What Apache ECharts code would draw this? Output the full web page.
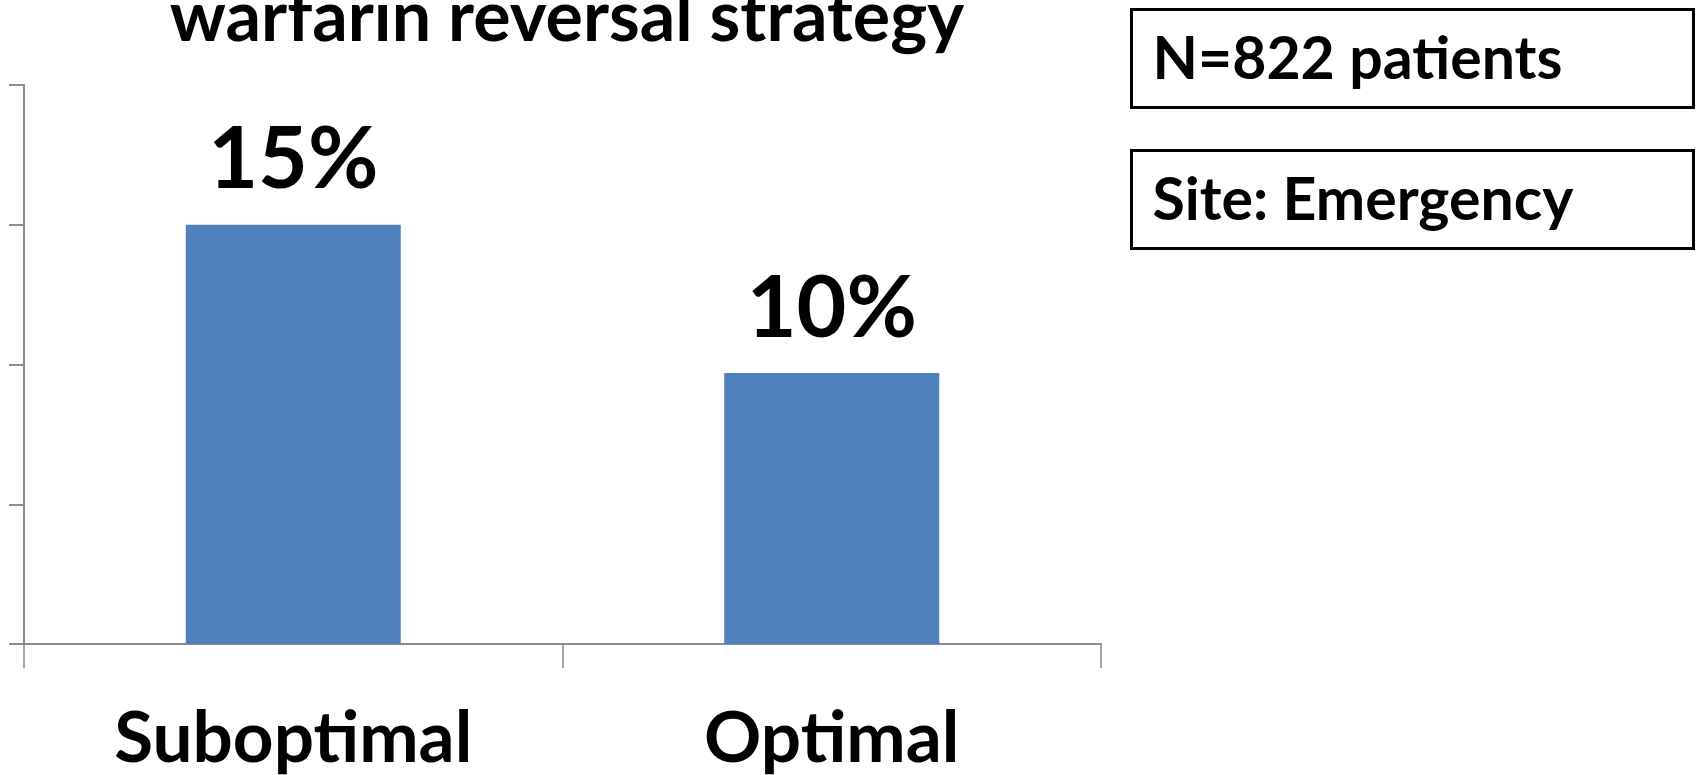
<!DOCTYPE html>
<html>
<head>
<meta charset="utf-8">
<title>warfarin reversal strategy</title>
<script src="https://cdn.jsdelivr.net/npm/echarts@6/dist/echarts.min.js"></script>
<style>
    html, body { margin: 0; padding: 0; background: #fff; }
    #chart { width: 1698px; height: 775px; }
</style>
</head>
<body>
<div id="chart"></div>
<script>
/* ===== data ===== */
const categories = ["Suboptimal", "Optimal"];
const values = [15, 9.7];          // % of patients
const yTicks = [0, 5, 10, 15, 20]; // unlabeled tick stops
const titleText = "warfarin reversal strategy";
const notes = ["N=822 patients", "Site: Emergency"];

const FONT = "Lato, 'Open Sans', sans-serif";
const AXIS_GRAY = "#8a8a8a";

/* ===== chart ===== */
const chart = echarts.init(document.getElementById("chart"));

chart.setOption({
    animation: false,
    title: {
        text: titleText,
        left: 562, top: -22,
        textAlign: "center",
        textStyle: { fontFamily: FONT, fontWeight: "bold", fontSize: 70, color: "#000" },
    },
    grid: { left: 24, right: 597, top: 85, bottom: 131, containLabel: false },
    xAxis: {
        type: "category",
        data: categories,
        axisLine: { lineStyle: { color: AXIS_GRAY, width: 2 } },
        axisTick: { show: true, length: 24, lineStyle: { color: AXIS_GRAY, width: 1.5 } },
        axisLabel: { margin: 60, fontFamily: FONT, fontWeight: "bold", fontSize: 71, color: "#000" },
    },
    yAxis: {
        type: "value",
        min: yTicks[0], max: yTicks[yTicks.length - 1], interval: yTicks[1] - yTicks[0],
        axisLine: { show: true, lineStyle: { color: AXIS_GRAY, width: 2 } },
        axisTick: { show: true, length: 15, lineStyle: { color: AXIS_GRAY, width: 2 } },
        axisLabel: { show: false },
        splitLine: { show: false },
    },
    series: [{
        type: "bar",
        data: values,
        barWidth: 215,
        itemStyle: { color: "#4f81bd" },
        label: {
            show: true, position: "top", distance: 21,
            formatter: p => Math.round(p.value) + "%",
            fontFamily: FONT, fontWeight: "bold", fontSize: 86, color: "#000",
        },
    }],
    graphic: notes.map((t, i) => ({
        type: "group",
        left: 1130, top: 8 + i * 141,
        children: [
            { type: "rect", shape: { x: 0, y: 0, width: 562, height: 98 },
              style: { fill: "#fff", stroke: "#000", lineWidth: 3 } },
            { type: "text", x: 21, y: 21,
              style: { text: t, fill: "#000", font: "bold 59px " + FONT, verticalAlign: "top" } },
        ],
    })),
});
</script>
</body>
</html>
